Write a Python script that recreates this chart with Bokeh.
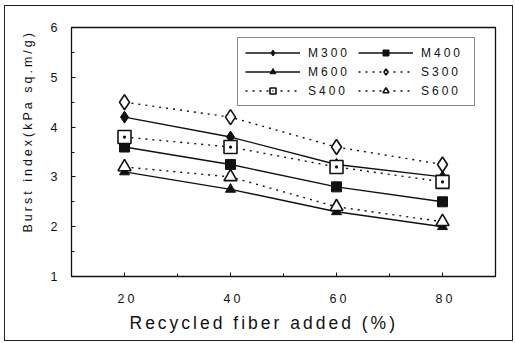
from bokeh.plotting import figure
from bokeh.models import FixedTicker, Legend, LegendItem, Range1d, InlineStyleSheet, Title
from bokeh.embed import file_html
from bokeh.resources import INLINE

x_vals = [20, 40, 60, 80]
m300 = [4.2, 3.8, 3.25, 3.0]
m400 = [3.6, 3.25, 2.8, 2.5]
m600 = [3.1, 2.75, 2.3, 2.0]
s300 = [4.5, 4.2, 3.6, 3.25]
s400 = [3.8, 3.6, 3.2, 2.9]
s600 = [3.2, 3.0, 2.4, 2.1]
x_ticks = [20, 40, 60, 80]
y_ticks = [1, 2, 3, 4, 5, 6]
x_title = "Recycled fiber added (%)"
y_title = "Burst index(kPa sq.m/g)"

FONT = "Liberation Sans"
INK = "#111111"

css = """
:host { letter-spacing: 3px; }
:host::after { content: ""; position: absolute; left: 4px; top: 5px; width: 509px; height: 336px;
  border: 1.5px solid #222; box-sizing: border-box; pointer-events: none; z-index: 10; }
"""

p = figure(width=515, height=343, output_backend="svg", toolbar_location=None,
           x_range=Range1d(10, 90), y_range=Range1d(1, 6),
           min_border_left=71, min_border_right=20, min_border_top=27, min_border_bottom=67,
           stylesheets=[InlineStyleSheet(css=css)])
p.frame_width = 424
p.frame_height = 249
p.grid.visible = False
p.outline_line_color = INK
p.outline_line_width = 1.3
p.background_fill_color = "white"
p.border_fill_color = "white"

p.xaxis.ticker = FixedTicker(ticks=x_ticks, minor_ticks=[10, 30, 50, 70, 90])
p.yaxis.ticker = FixedTicker(ticks=y_ticks, minor_ticks=[1.5, 2.5, 3.5, 4.5, 5.5])
for ax in (p.xaxis[0], p.yaxis[0]):
    ax.major_tick_in = 4
    ax.major_tick_out = 0
    ax.minor_tick_in = 3
    ax.minor_tick_out = 0
    ax.axis_line_color = INK
    ax.major_tick_line_color = INK
    ax.minor_tick_line_color = INK
    ax.major_label_text_font = FONT
    ax.major_label_text_font_size = "12.5px"
    ax.major_label_text_color = INK
p.xaxis.major_label_standoff = 17
p.yaxis.major_label_standoff = 14

xt = Title(text=x_title, align="left", offset=58, text_font=FONT, text_font_size="17.5px",
           text_font_style="normal", text_color=INK, standoff=11)
p.add_layout(xt, "below")
yt = Title(text=y_title, align="left", offset=44, text_font=FONT, text_font_size="12.5px",
           text_font_style="normal", text_color=INK, standoff=26)
p.add_layout(yt, "left")

lw = 1.4
r1 = p.line(x_vals, m300, line_color=INK, line_width=lw)
m1 = p.scatter(x_vals, m300, marker="diamond", size=12, fill_color=INK, line_color=INK)
r2 = p.line(x_vals, m400, line_color=INK, line_width=lw)
m2 = p.scatter(x_vals, m400, marker="square", size=10, fill_color=INK, line_color=INK)
r3 = p.line(x_vals, m600, line_color=INK, line_width=lw)
m3 = p.scatter(x_vals, m600, marker="triangle", size=10, fill_color=INK, line_color=INK)
dash = "2 5"
r4 = p.line(x_vals, s300, line_color=INK, line_width=lw, line_dash=dash)
m4 = p.scatter(x_vals, s300, marker="diamond", size=15, fill_color="white", line_color=INK, line_width=1.6)
r5 = p.line(x_vals, s400, line_color=INK, line_width=lw, line_dash=dash)
m5 = p.scatter(x_vals, s400, marker="square_dot", size=13, fill_color="white", line_color=INK, line_width=1.6)
r6 = p.line(x_vals, s600, line_color=INK, line_width=lw, line_dash=dash)
m6 = p.scatter(x_vals, s600, marker="triangle", size=13, fill_color="white", line_color=INK, line_width=1.6)

items = [
    LegendItem(label="M300", renderers=[r1, m1]),
    LegendItem(label="M600", renderers=[r3, m3]),
    LegendItem(label="S400", renderers=[r5, m5]),
    LegendItem(label="M400", renderers=[r2, m2]),
    LegendItem(label="S300", renderers=[r4, m4]),
    LegendItem(label="S600", renderers=[r6, m6]),
]
legend = Legend(items=items, location=(166, 170), ncols=2,
                label_text_font=FONT, label_text_font_size="12px", label_text_color=INK,
                glyph_width=55, glyph_height=15, label_height=15, label_width=46,
                label_standoff=8, spacing=4, padding=7, margin=0,
                border_line_color=INK, border_line_width=1.3,
                background_fill_color="white", background_fill_alpha=1)
p.add_layout(legend, "center")

open("out.html", "w").write(file_html(p, INLINE))
